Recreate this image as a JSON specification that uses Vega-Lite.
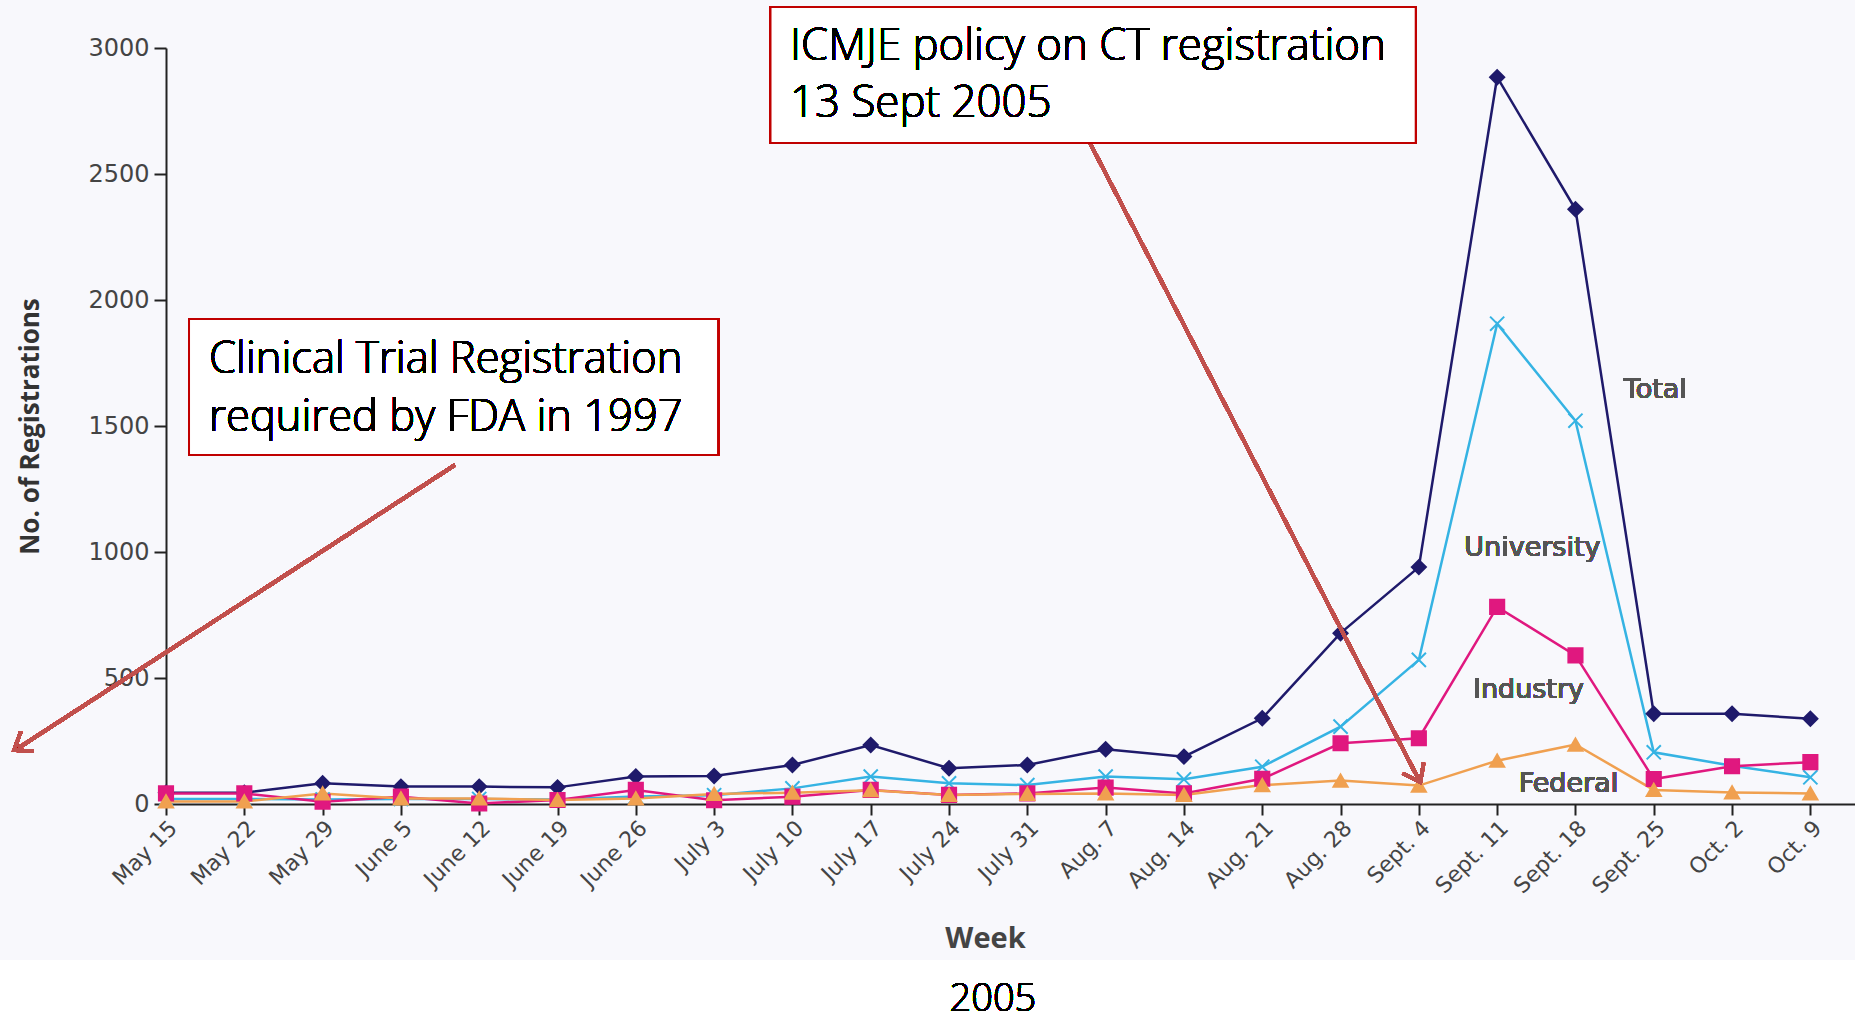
{
  "$schema": "https://vega.github.io/schema/vega-lite/v6.json",
  "width": 1689,
  "height": 756,
  "autosize": {"type": "none"},
  "padding": {"left": 166, "top": 48, "right": 0, "bottom": 215},
  "background": "#f8f8fc",
  "config": {"view": {"stroke": null}, "font": "DejaVu Sans"},
  "data": {"values": [
    {"week": "May 15", "i": 0, "series": "Total", "n": 45},
    {"week": "May 22", "i": 1, "series": "Total", "n": 45},
    {"week": "May 29", "i": 2, "series": "Total", "n": 82},
    {"week": "June 5", "i": 3, "series": "Total", "n": 69},
    {"week": "June 12", "i": 4, "series": "Total", "n": 69},
    {"week": "June 19", "i": 5, "series": "Total", "n": 66},
    {"week": "June 26", "i": 6, "series": "Total", "n": 109},
    {"week": "July 3", "i": 7, "series": "Total", "n": 111},
    {"week": "July 10", "i": 8, "series": "Total", "n": 155},
    {"week": "July 17", "i": 9, "series": "Total", "n": 234},
    {"week": "July 24", "i": 10, "series": "Total", "n": 142},
    {"week": "July 31", "i": 11, "series": "Total", "n": 155},
    {"week": "Aug. 7", "i": 12, "series": "Total", "n": 217},
    {"week": "Aug. 14", "i": 13, "series": "Total", "n": 188},
    {"week": "Aug. 21", "i": 14, "series": "Total", "n": 340},
    {"week": "Aug. 28", "i": 15, "series": "Total", "n": 678},
    {"week": "Sept. 4", "i": 16, "series": "Total", "n": 940},
    {"week": "Sept. 11", "i": 17, "series": "Total", "n": 2884},
    {"week": "Sept. 18", "i": 18, "series": "Total", "n": 2360},
    {"week": "Sept. 25", "i": 19, "series": "Total", "n": 358},
    {"week": "Oct. 2", "i": 20, "series": "Total", "n": 358},
    {"week": "Oct. 9", "i": 21, "series": "Total", "n": 338},
    {"week": "May 15", "i": 0, "series": "University", "n": 20},
    {"week": "May 22", "i": 1, "series": "University", "n": 20},
    {"week": "May 29", "i": 2, "series": "University", "n": 18},
    {"week": "June 5", "i": 3, "series": "University", "n": 20},
    {"week": "June 12", "i": 4, "series": "University", "n": 20},
    {"week": "June 19", "i": 5, "series": "University", "n": 18},
    {"week": "June 26", "i": 6, "series": "University", "n": 30},
    {"week": "July 3", "i": 7, "series": "University", "n": 35},
    {"week": "July 10", "i": 8, "series": "University", "n": 62},
    {"week": "July 17", "i": 9, "series": "University", "n": 109},
    {"week": "July 24", "i": 10, "series": "University", "n": 82},
    {"week": "July 31", "i": 11, "series": "University", "n": 75},
    {"week": "Aug. 7", "i": 12, "series": "University", "n": 109},
    {"week": "Aug. 14", "i": 13, "series": "University", "n": 98},
    {"week": "Aug. 21", "i": 14, "series": "University", "n": 148},
    {"week": "Aug. 28", "i": 15, "series": "University", "n": 307},
    {"week": "Sept. 4", "i": 16, "series": "University", "n": 572},
    {"week": "Sept. 11", "i": 17, "series": "University", "n": 1906},
    {"week": "Sept. 18", "i": 18, "series": "University", "n": 1521},
    {"week": "Sept. 25", "i": 19, "series": "University", "n": 205},
    {"week": "Oct. 2", "i": 20, "series": "University", "n": 152},
    {"week": "Oct. 9", "i": 21, "series": "University", "n": 106},
    {"week": "May 15", "i": 0, "series": "Industry", "n": 42},
    {"week": "May 22", "i": 1, "series": "Industry", "n": 42},
    {"week": "May 29", "i": 2, "series": "Industry", "n": 9},
    {"week": "June 5", "i": 3, "series": "Industry", "n": 29},
    {"week": "June 12", "i": 4, "series": "Industry", "n": 2},
    {"week": "June 19", "i": 5, "series": "Industry", "n": 16},
    {"week": "June 26", "i": 6, "series": "Industry", "n": 56},
    {"week": "July 3", "i": 7, "series": "Industry", "n": 15},
    {"week": "July 10", "i": 8, "series": "Industry", "n": 29},
    {"week": "July 17", "i": 9, "series": "Industry", "n": 56},
    {"week": "July 24", "i": 10, "series": "Industry", "n": 36},
    {"week": "July 31", "i": 11, "series": "Industry", "n": 42},
    {"week": "Aug. 7", "i": 12, "series": "Industry", "n": 65},
    {"week": "Aug. 14", "i": 13, "series": "Industry", "n": 42},
    {"week": "Aug. 21", "i": 14, "series": "Industry", "n": 100},
    {"week": "Aug. 28", "i": 15, "series": "Industry", "n": 241},
    {"week": "Sept. 4", "i": 16, "series": "Industry", "n": 261},
    {"week": "Sept. 11", "i": 17, "series": "Industry", "n": 782},
    {"week": "Sept. 18", "i": 18, "series": "Industry", "n": 590},
    {"week": "Sept. 25", "i": 19, "series": "Industry", "n": 99},
    {"week": "Oct. 2", "i": 20, "series": "Industry", "n": 150},
    {"week": "Oct. 9", "i": 21, "series": "Industry", "n": 166},
    {"week": "May 15", "i": 0, "series": "Federal", "n": 10},
    {"week": "May 22", "i": 1, "series": "Federal", "n": 10},
    {"week": "May 29", "i": 2, "series": "Federal", "n": 42},
    {"week": "June 5", "i": 3, "series": "Federal", "n": 22},
    {"week": "June 12", "i": 4, "series": "Federal", "n": 22},
    {"week": "June 19", "i": 5, "series": "Federal", "n": 16},
    {"week": "June 26", "i": 6, "series": "Federal", "n": 22},
    {"week": "July 3", "i": 7, "series": "Federal", "n": 40},
    {"week": "July 10", "i": 8, "series": "Federal", "n": 45},
    {"week": "July 17", "i": 9, "series": "Federal", "n": 55},
    {"week": "July 24", "i": 10, "series": "Federal", "n": 36},
    {"week": "July 31", "i": 11, "series": "Federal", "n": 40},
    {"week": "Aug. 7", "i": 12, "series": "Federal", "n": 42},
    {"week": "Aug. 14", "i": 13, "series": "Federal", "n": 36},
    {"week": "Aug. 21", "i": 14, "series": "Federal", "n": 75},
    {"week": "Aug. 28", "i": 15, "series": "Federal", "n": 93},
    {"week": "Sept. 4", "i": 16, "series": "Federal", "n": 73},
    {"week": "Sept. 11", "i": 17, "series": "Federal", "n": 172},
    {"week": "Sept. 18", "i": 18, "series": "Federal", "n": 236},
    {"week": "Sept. 25", "i": 19, "series": "Federal", "n": 56},
    {"week": "Oct. 2", "i": 20, "series": "Federal", "n": 46},
    {"week": "Oct. 9", "i": 21, "series": "Federal", "n": 42}
  ]},
  "encoding": {
    "x": {
      "field": "i", "type": "quantitative",
      "scale": {"domain": [0, 21.57], "nice": false, "zero": false},
      "axis": {
        "values": [0,1,2,3,4,5,6,7,8,9,10,11,12,13,14,15,16,17,18,19,20,21],
        "labelExpr": "['May 15','May 22','May 29','June 5','June 12','June 19','June 26','July 3','July 10','July 17','July 24','July 31','Aug. 7','Aug. 14','Aug. 21','Aug. 28','Sept. 4','Sept. 11','Sept. 18','Sept. 25','Oct. 2','Oct. 9'][datum.value]",
        "title": "Week", "titleFont": "Open Sans", "titleFontSize": 29, "titleFontWeight": "bold", "titleColor": "#444",
        "titleX": 819, "titleY": 134, "titleBaseline": "middle", "titleAlign": "center",
        "grid": false, "domainColor": "#222", "domainWidth": 2, "tickColor": "#222", "tickWidth": 2, "tickSize": 11,
        "labelAngle": -45, "labelAlign": "right", "labelBaseline": "top", "labelPadding": 2,
        "labelFontSize": 22, "labelColor": "#444", "labelFlush": false, "labelOverlap": false, "labelBound": false
      }
    },
    "y": {
      "field": "n", "type": "quantitative",
      "scale": {"domain": [0, 3000], "nice": false},
      "axis": {
        "values": [0, 500, 1000, 1500, 2000, 2500, 3000], "format": "d",
        "title": "No. of Registrations", "titleFont": "Open Sans", "titleFontSize": 26, "titleFontWeight": "bold", "titleColor": "#333",
        "titleX": -136, "titleY": 378, "titleAngle": -90, "titleBaseline": "middle", "titleAlign": "center",
        "grid": false, "domainColor": "#222", "domainWidth": 2, "tickColor": "#222", "tickWidth": 2, "tickSize": 12,
        "labelPadding": 5, "labelFontSize": 24, "labelColor": "#444", "labelFlush": false
      }
    }
  },
  "layer": [
    {
      "mark": {"type": "rect", "fill": "#ffffff", "clip": false},
      "encoding": {"x": {"datum": -3}, "x2": {"datum": 23}, "y": {"datum": -619}, "y2": {"datum": -900}}
    },
    {
      "mark": {"type": "line", "strokeWidth": 2.5, "clip": false},
      "encoding": {
        "color": {"field": "series", "type": "nominal",
          "scale": {"domain": ["Total", "University", "Industry", "Federal"], "range": ["#1f1a6b", "#35b3e3", "#e0187f", "#f0a050"]},
          "legend": null},
        "detail": {"field": "series"},
        "order": {"field": "i"}
      }
    },
    {
      "mark": {"type": "point", "filled": true, "opacity": 1, "strokeWidth": 2, "size": 200, "clip": false},
      "encoding": {
        "fill": {"field": "series", "type": "nominal",
          "scale": {"domain": ["Total", "University", "Industry", "Federal"], "range": ["#1f1a6b", "#35b3e3", "#e0187f", "#f0a050"]},
          "legend": null},
        "stroke": {"field": "series", "type": "nominal",
          "scale": {"domain": ["Total", "University", "Industry", "Federal"], "range": ["#1f1a6b", "#35b3e3", "#e0187f", "#f0a050"]},
          "legend": null},
        "shape": {"field": "series", "type": "nominal",
          "scale": {"domain": ["Total", "University", "Industry", "Federal"], "range": ["diamond", "M-1,-1L1,1M-1,1L1,-1", "square", "triangle-up"]},
          "legend": null}
      }
    },
    {
      "mark": {"type": "text", "font": "DejaVu Sans", "fontSize": 27, "color": "#555", "align": "center", "baseline": "middle"},
      "encoding": {"x": {"datum": 19.02}, "y": {"datum": 1643}, "text": {"value": "Total"}}
    },
    {
      "mark": {"type": "text", "font": "DejaVu Sans", "fontSize": 27, "color": "#555", "align": "center", "baseline": "middle"},
      "encoding": {"x": {"datum": 17.45}, "y": {"datum": 1016}, "text": {"value": "University"}}
    },
    {
      "mark": {"type": "text", "font": "DejaVu Sans", "fontSize": 27, "color": "#555", "align": "center", "baseline": "middle"},
      "encoding": {"x": {"datum": 17.40}, "y": {"datum": 452}, "text": {"value": "Industry"}}
    },
    {
      "mark": {"type": "text", "font": "DejaVu Sans", "fontSize": 27, "color": "#555", "align": "center", "baseline": "middle"},
      "encoding": {"x": {"datum": 17.91}, "y": {"datum": 79}, "text": {"value": "Federal"}}
    },
    {
      "mark": {"type": "rule", "color": "#c0504d", "strokeWidth": 3.5, "clip": false},
      "encoding": {"x": {"datum": 3.69}, "y": {"datum": 1345}, "x2": {"datum": -1.92}, "y2": {"datum": 215}}
    },
    {
      "mark": {"type": "point", "shape": "M-1,-0.75L0,0L-1,0.75", "filled": false, "stroke": "#c0504d", "strokeWidth": 3.5, "size": 1000, "opacity": 1, "angle": 146.9, "clip": false},
      "encoding": {"x": {"datum": -1.94}, "y": {"datum": 214}}
    },
    {
      "mark": {"type": "rule", "color": "#c0504d", "strokeWidth": 3.5, "clip": false},
      "encoding": {"x": {"datum": 11.80}, "y": {"datum": 2623}, "x2": {"datum": 16.01}, "y2": {"datum": 90}}
    },
    {
      "mark": {"type": "point", "shape": "M-1,-0.75L0,0L-1,0.75", "filled": false, "stroke": "#c0504d", "strokeWidth": 3.5, "size": 1000, "opacity": 1, "angle": 62.7, "clip": false},
      "encoding": {"x": {"datum": 16.02}, "y": {"datum": 87}}
    },
    {
      "mark": {"type": "rect", "fill": "#ffffff", "stroke": "#c00000", "strokeWidth": 2, "clip": false},
      "encoding": {"x": {"datum": 0.294}, "x2": {"datum": 7.05}, "y": {"datum": 1925}, "y2": {"datum": 1385}}
    },
    {
      "mark": {"type": "rect", "fill": "#ffffff", "stroke": "#c00000", "strokeWidth": 2, "clip": false},
      "encoding": {"x": {"datum": 7.72}, "x2": {"datum": 15.96}, "y": {"datum": 3163}, "y2": {"datum": 2623}}
    },
    {
      "mark": {"type": "text", "font": "Open Sans", "fontSize": 43.5, "fontWeight": 300, "color": "#000", "align": "left", "baseline": "middle", "clip": false},
      "encoding": {"x": {"datum": 0.55}, "y": {"datum": 1762}, "text": {"value": "Clinical Trial Registration"}}
    },
    {
      "mark": {"type": "text", "font": "Open Sans", "fontSize": 43.5, "fontWeight": 300, "color": "#000", "align": "left", "baseline": "middle", "clip": false},
      "encoding": {"x": {"datum": 0.55}, "y": {"datum": 1532}, "text": {"value": "required by FDA in 1997"}}
    },
    {
      "mark": {"type": "text", "font": "Open Sans", "fontSize": 43.8, "fontWeight": 300, "color": "#000", "align": "left", "baseline": "middle", "clip": false},
      "encoding": {"x": {"datum": 7.97}, "y": {"datum": 3004}, "text": {"value": "ICMJE policy on CT registration"}}
    },
    {
      "mark": {"type": "text", "font": "Open Sans", "fontSize": 43.8, "fontWeight": 300, "color": "#000", "align": "left", "baseline": "middle", "clip": false},
      "encoding": {"x": {"datum": 7.97}, "y": {"datum": 2778}, "text": {"value": "13 Sept 2005"}}
    },
    {
      "mark": {"type": "text", "font": "Open Sans", "fontSize": 38, "fontWeight": 300, "color": "#000", "align": "center", "baseline": "middle", "clip": false},
      "encoding": {"x": {"datum": 10.56}, "y": {"datum": -776}, "text": {"value": "2005"}}
    }
  ]
}
